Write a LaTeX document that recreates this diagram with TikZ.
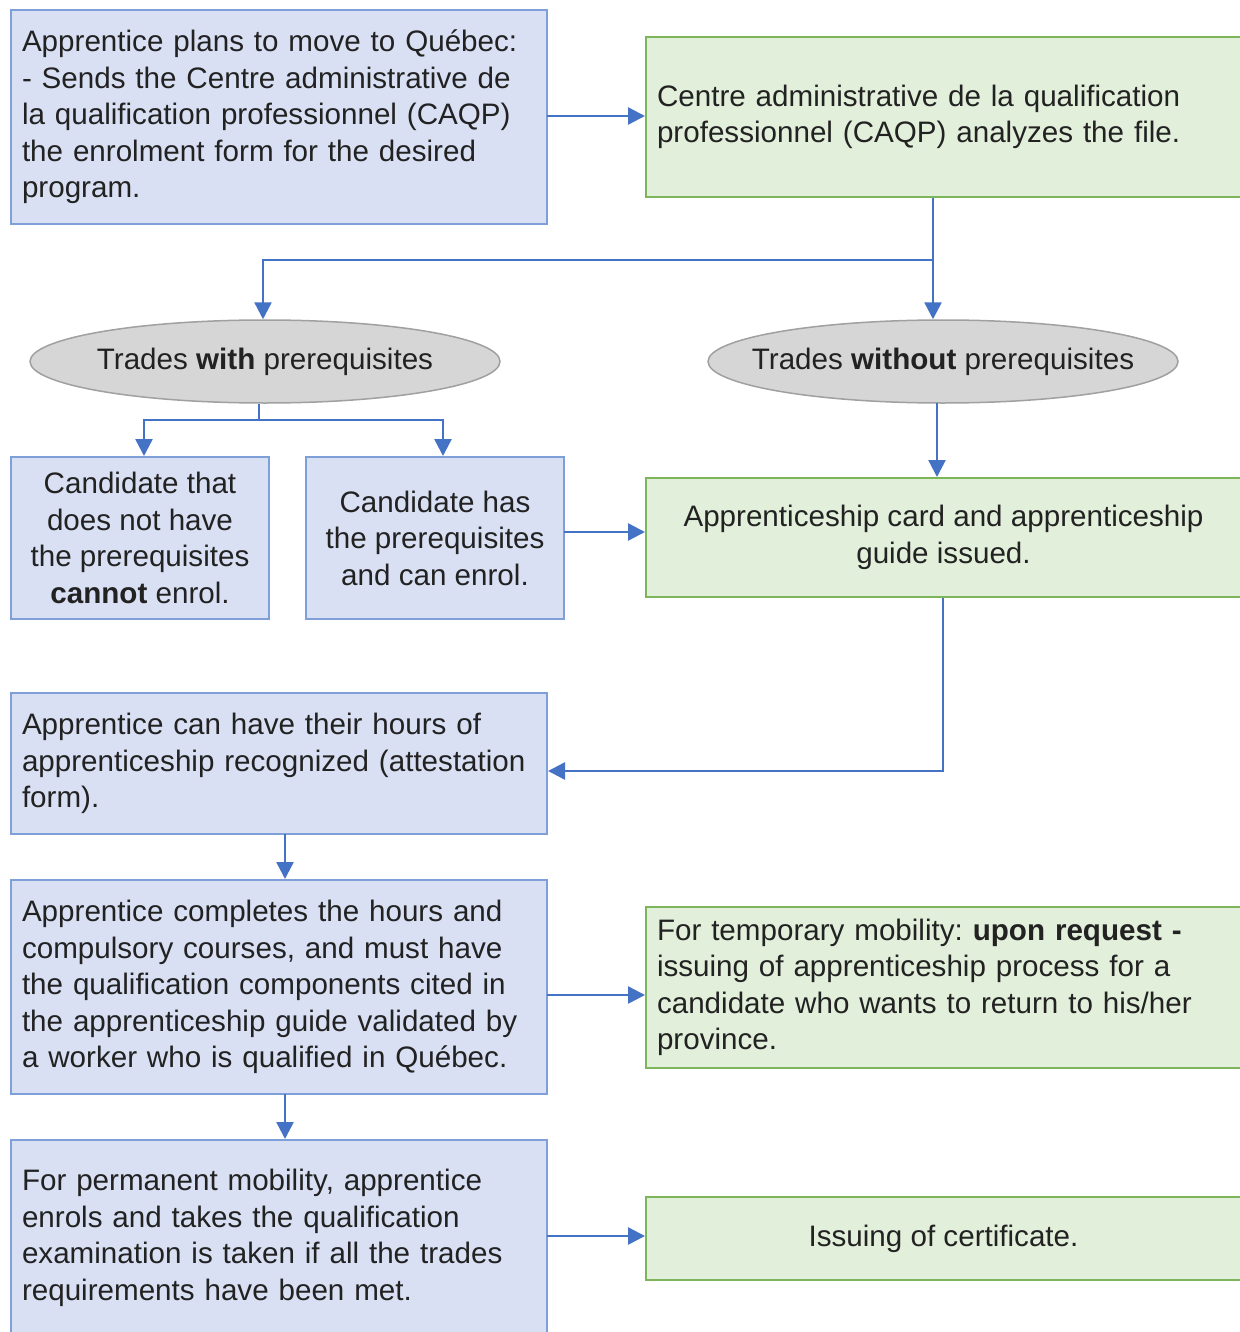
\documentclass[tikz,border=0pt]{standalone}
\usepackage{fontspec}
\setmainfont{Liberation Sans}
\usetikzlibrary{arrows.meta,shapes.geometric}
\definecolor{bfill}{HTML}{D9E0F3}
\definecolor{bline}{HTML}{7E9FD8}
\definecolor{gfill}{HTML}{E2EFDA}
\definecolor{gline}{HTML}{7DB55A}
\definecolor{efill}{HTML}{D6D6D6}
\definecolor{eline}{HTML}{A0A0A0}
\definecolor{arrc}{HTML}{4472C4}
\definecolor{txt}{HTML}{222222}
\frenchspacing
\tikzset{
  base/.style={draw, line width=2pt, inner sep=0pt, text=txt,
    font=\fontsize{29.6}{36.5}\selectfont\frenchspacing},
  bluebox/.style={base, rectangle, fill=bfill, draw=bline},
  greenbox/.style={base, rectangle, fill=gfill, draw=gline},
  ovalbox/.style={base, ellipse, fill=efill, draw=eline, line width=1.5pt, inner xsep=-32pt},
  arr/.style={draw=arrc, line width=2.5pt, -{Triangle[length=17pt,width=17pt]}},
  ln/.style={draw=arrc, line width=2.5pt}
}
\begin{document}
\begin{tikzpicture}[x=1pt,y=-1pt]
\useasboundingbox (0,0) rectangle (1239,1332);
\fill[white] (0,0) rectangle (1239,1332);

\node[bluebox, minimum width=536, minimum height=214, text width=514, align=left] (b1) at (279,117)
 {Apprentice plans to move to Québec:\\- Sends the Centre administrative de\\la qualification professionnel (CAQP)\\the enrolment form for the desired\\program.};
\node[greenbox, minimum width=595, minimum height=160, text width=573, align=left] (b2) at (943.5,117)
 {Centre administrative de la qualification\\professionnel (CAQP) analyzes the file.};

\node[ovalbox, minimum width=470, minimum height=83] (e1) at (265,361.5)
 {Trades \textbf{with} prerequisites};
\node[ovalbox, minimum width=470, minimum height=83] (e2) at (943,361.5)
 {Trades \textbf{without} prerequisites};

\node[bluebox, minimum width=258, minimum height=162, align=center] (b3) at (140,538)
 {Candidate that\\does not have\\the prerequisites\\\textbf{cannot} enrol.};
\node[bluebox, minimum width=258, minimum height=162, align=center] (b4) at (435,538)
 {Candidate has\\the prerequisites\\and can enrol.};
\node[greenbox, minimum width=595, minimum height=119, align=center] (b5) at (943.5,537.5)
 {Apprenticeship card and apprenticeship\\guide issued.};

\node[bluebox, minimum width=536, minimum height=141, text width=514, align=left] (b6) at (279,763.5)
 {Apprentice can have their hours of\\apprenticeship recognized (attestation\\form).};
\node[bluebox, minimum width=536, minimum height=214, text width=514, align=left] (b7) at (279,987)
 {Apprentice completes the hours and\\compulsory courses, and must have\\the qualification components cited in\\the apprenticeship guide validated by\\a worker who is qualified in Québec.};
\node[greenbox, minimum width=595, minimum height=161, text width=573, align=left] (b8) at (943.5,987.5)
 {For temporary mobility: \textbf{upon request -}\\issuing of apprenticeship process for a\\candidate who wants to return to his/her\\province.};
\node[bluebox, minimum width=536, minimum height=196, text width=514, align=left] (b9) at (279,1238)
 {For permanent mobility, apprentice\\enrols and takes the qualification\\examination is taken if all the trades\\requirements have been met.};
\node[greenbox, minimum width=595, minimum height=83, align=center] (b10) at (943.5,1238.5)
 {Issuing of certificate.};

\coordinate (j1) at (933,260);
\coordinate (k1) at (263,260);
\coordinate (j2) at (259,420);
\coordinate (t3) at (144,420);
\coordinate (t4) at (443,420);
\coordinate (c45) at (564,532);
\coordinate (ce2) at (937,403);
\coordinate (j3) at (943,771);
\coordinate (c67) at (285,834);
\coordinate (c79) at (285,1094);
\coordinate (c78) at (547,995);
\coordinate (c12) at (547,116);
\coordinate (c910) at (547,1236);

\draw[arr] (c12) -- (c12 -| b2.west);
\draw[ln] (b2.south -| j1) -- (j1);
\draw[arr] (j1) -- (e2.north -| j1);
\draw[arr] (j1) -- (k1) -- (e1.north -| k1);
\draw[ln] (e1.south -| j2) -- (j2);
\draw[arr] (j2) -- (t3) -- (b3.north -| t3);
\draw[arr] (j2) -- (t4) -- (b4.north -| t4);
\draw[arr] (c45) -- (c45 -| b5.west);
\draw[arr] (ce2) -- (b5.north -| ce2);
\draw[arr] (b5.south -| j3) -- (j3) -- (j3 -| b6.east);
\draw[arr] (c67) -- (b7.north -| c67);
\draw[arr] (c78) -- (c78 -| b8.west);
\draw[arr] (c79) -- (b9.north -| c79);
\draw[arr] (c910) -- (c910 -| b10.west);
\end{tikzpicture}
\end{document}
